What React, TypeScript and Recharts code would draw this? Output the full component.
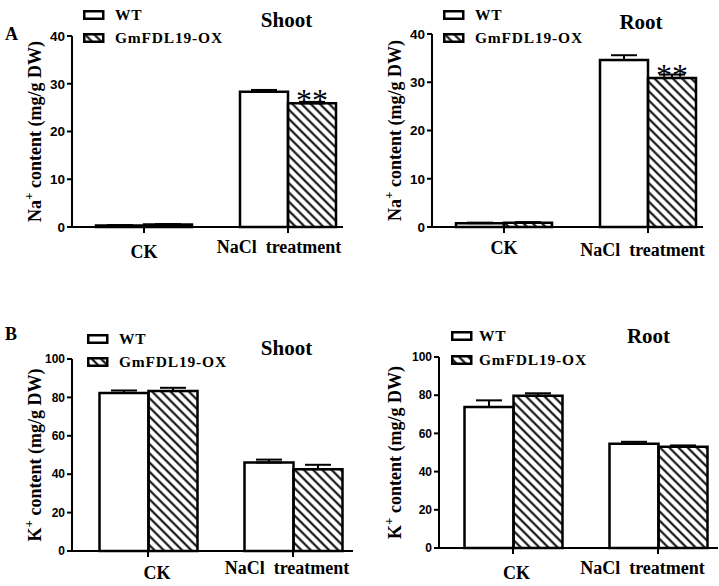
import React from 'react';
import { BarChart, Bar, XAxis, YAxis, ErrorBar, LabelList } from 'recharts';

const categories = ['CK', 'NaCl  treatment'];
const seriesNames = ['WT', 'GmFDL19-OX'];

// Na+ content (mg/g DW)
const naShootWT = [0.3, 28.3];
const naShootWTErr = [0.1, 0.4];
const naShootOX = [0.5, 25.9];
const naShootOXErr = [0.1, 0.3];
const naShootSig = ['', '**'];

const naRootWT = [0.8, 34.6];
const naRootWTErr = [0.1, 1.0];
const naRootOX = [0.9, 30.9];
const naRootOXErr = [0.1, 0.7];
const naRootSig = ['', '**'];

// K+ content (mg/g DW)
const kShootWT = [82.3, 46.1];
const kShootWTErr = [1.3, 1.5];
const kShootOX = [83.3, 42.6];
const kShootOXErr = [1.7, 2.3];
const kShootSig = ['', ''];

const kRootWT = [73.8, 54.6];
const kRootWTErr = [3.5, 1.0];
const kRootOX = [79.7, 53.0];
const kRootOXErr = [1.3, 0.7];
const kRootSig = ['', ''];

const naTicks = [0, 10, 20, 30, 40];
const kTicks = [0, 20, 40, 60, 80, 100];

const SERIF = '"Liberation Serif", "Times New Roman", serif';
const SANS = '"Liberation Sans", Arial, sans-serif';

const panels = [
  {
    id: 'as', letter: 'A', title: 'Shoot', ion: 'Na', ticks: naTicks,
    wt: naShootWT, wtErr: naShootWTErr, ox: naShootOX, oxErr: naShootOXErr, sig: naShootSig,
    left: 0, top: 0, width: 360, height: 290,
    axisX: 72, plotTop: 36, plotBottom: 227, plotRight: 343, padL: 0, padR: -17,
    tickFont: 13.5, tickDx: [0, -9], tickDy: [31, 26],
    titleX: 286.5, titleY: 27, letterY: 39.5,
    legX: 83, legTop: 10, legTextX: 115, legPitch: 23,
  },
  {
    id: 'ar', letter: '', title: 'Root', ion: 'Na', ticks: naTicks,
    wt: naRootWT, wtErr: naRootWTErr, ox: naRootOX, oxErr: naRootOXErr, sig: naRootSig,
    left: 360, top: 0, width: 359, height: 290,
    axisX: 72, plotTop: 34, plotBottom: 227, plotRight: 343, padL: 0, padR: -17,
    tickFont: 13.5, tickDx: [0, -5.5], tickDy: [27, 29],
    titleX: 281, titleY: 29, letterY: 0,
    legX: 83, legTop: 10, legTextX: 115, legPitch: 23,
  },
  {
    id: 'bs', letter: 'B', title: 'Shoot', ion: 'K', ticks: kTicks,
    wt: kShootWT, wtErr: kShootWTErr, ox: kShootOX, oxErr: kShootOXErr, sig: kShootSig,
    left: 0, top: 290, width: 360, height: 296,
    axisX: 72, plotTop: 69, plotBottom: 261, plotRight: 353, padL: 3.5, padR: -12.5,
    tickFont: 12, tickDx: [9, -6], tickDy: [28, 23],
    titleX: 286.5, titleY: 65, letterY: 50,
    legX: 87, legTop: 44, legTextX: 119, legPitch: 23,
  },
  {
    id: 'br', letter: '', title: 'Root', ion: 'K', ticks: kTicks,
    wt: kRootWT, wtErr: kRootWTErr, ox: kRootOX, oxErr: kRootOXErr, sig: kRootSig,
    left: 360, top: 290, width: 359, height: 296,
    axisX: 79, plotTop: 67, plotBottom: 258, plotRight: 358, padL: 1.5, padR: -12.5,
    tickFont: 12, tickDx: [3.5, -15.5], tickDy: [31, 26],
    titleX: 288.5, titleY: 53, letterY: 0,
    legX: 91, legTop: 41, legTextX: 119, legPitch: 24,
  },
];

type PanelCfg = typeof panels[number];

const Hatch = ({ id }: { id: string }) => (
  <pattern id={id} patternUnits="userSpaceOnUse" width={6.5} height={6.5} patternTransform="rotate(-45)">
    <line x1={3.25} y1={0} x2={3.25} y2={6.5} stroke="#000" strokeWidth={2} />
  </pattern>
);

const Panel = ({ cfg }: { cfg: PanelCfg }) => {
  const data = categories.map((name, i) => ({
    name,
    wt: cfg.wt[i],
    wtErr: [0, cfg.wtErr[i]],
    ox: cfg.ox[i],
    oxErr: [0, cfg.oxErr[i]],
    sig: cfg.sig[i],
  }));
  const hatchId = `hatch-${cfg.id}`;
  const legHatchId = `hatch-leg-${cfg.id}`;
  const midY = (cfg.plotTop + cfg.plotBottom) / 2;
  const labelX = 41;

  const renderTick = (props: any) => {
    const i = props.index;
    return (
      <text
        x={props.x + cfg.tickDx[i]}
        y={cfg.plotBottom + cfg.tickDy[i]}
        textAnchor="middle"
        fontFamily={SERIF}
        fontWeight="bold"
        fontSize={18}
        fill="#000"
        style={{ whiteSpace: 'pre' }}
      >
        {props.payload.value}
      </text>
    );
  };

  return (
    <div style={{ position: 'absolute', left: cfg.left, top: cfg.top, width: cfg.width, height: cfg.height }}>
      <BarChart
        width={cfg.width}
        height={cfg.height}
        data={data}
        margin={{ top: cfg.plotTop, right: cfg.width - cfg.plotRight, bottom: cfg.height - cfg.plotBottom - 30, left: 0 }}
        barCategoryGap={24}
        barGap={0}
      >
        <defs>
          <Hatch id={hatchId} />
        </defs>
        <XAxis
          dataKey="name"
          height={30}
          interval={0}
          padding={{ left: cfg.padL, right: cfg.padR }}
          axisLine={{ stroke: '#000', strokeWidth: 2 }}
          tickLine={{ stroke: '#000', strokeWidth: 2 }}
          tickSize={6}
          tick={renderTick}
        />
        <YAxis
          width={cfg.axisX}
          domain={[cfg.ticks[0], cfg.ticks[cfg.ticks.length - 1]]}
          ticks={cfg.ticks}
          interval={0}
          axisLine={{ stroke: '#000', strokeWidth: 2 }}
          tickLine={{ stroke: '#000', strokeWidth: 2 }}
          tickSize={5}
          tick={{ fill: '#000', fontFamily: SANS, fontWeight: 'bold', fontSize: cfg.tickFont }}
          label={{
            content: () => (
              <text
                x={labelX}
                y={midY}
                transform={`rotate(-90, ${labelX}, ${midY})`}
                textAnchor="middle"
                fontFamily={SERIF}
                fontWeight="bold"
                fontSize={18}
                fill="#000"
              >
                <tspan>{cfg.ion}</tspan>
                <tspan dy={-8} fontSize={13}>+</tspan>
                <tspan dy={8}> content (mg/g DW)</tspan>
              </text>
            ),
          }}
        />
        <Bar dataKey="wt" fill="#fff" stroke="#000" strokeWidth={2.5} isAnimationActive={false}>
          <ErrorBar dataKey="wtErr" direction="y" width={13} stroke="#000" strokeWidth={2} isAnimationActive={false} />
        </Bar>
        <Bar dataKey="ox" fill={`url(#${hatchId})`} stroke="#000" strokeWidth={2.5} isAnimationActive={false}>
          <ErrorBar dataKey="oxErr" direction="y" width={13} stroke="#000" strokeWidth={2} isAnimationActive={false} />
          <LabelList
            dataKey="sig"
            content={(p: any) =>
              p.value ? (
                <text
                  x={p.x + p.width / 2}
                  y={p.y + 8}
                  textAnchor="middle"
                  fontFamily={SERIF}
                  fontSize={32}
                  fill="#000"
                >
                  {p.value}
                </text>
              ) : null
            }
          />
        </Bar>
      </BarChart>

      <div
        style={{
          position: 'absolute', left: 0, top: 0, width: cfg.width, height: cfg.height, pointerEvents: 'none',
        }}
      >
        <svg width={cfg.width} height={cfg.height} style={{ position: 'absolute', left: 0, top: 0 }}>
          <defs>
            <Hatch id={legHatchId} />
          </defs>
          {cfg.letter && (
            <text x={5} y={cfg.letterY} fontFamily={SERIF} fontWeight="bold" fontSize={18} fill="#000">
              {cfg.letter}
            </text>
          )}
          <text x={cfg.titleX} y={cfg.titleY} textAnchor="middle" fontFamily={SERIF} fontWeight="bold" fontSize={21} fill="#000">
            {cfg.title}
          </text>
          {seriesNames.map((s, i) => (
            <g key={s}>
              <rect
                x={cfg.legX + 1.25}
                y={cfg.legTop + i * cfg.legPitch + 1.25}
                width={19}
                height={7.5}
                fill={i === 0 ? '#fff' : `url(#${legHatchId})`}
                stroke="#000"
                strokeWidth={2.5}
              />
              <text
                x={cfg.legTextX}
                y={cfg.legTop + i * cfg.legPitch + 10}
                fontFamily={SERIF}
                fontWeight="bold"
                fontSize={15.5}
                letterSpacing={0.8}
                fill="#000"
              >
                {s}
              </text>
            </g>
          ))}
        </svg>
      </div>
    </div>
  );
};

const App: React.FC = () => (
  <div style={{ position: 'absolute', left: 0, top: 0, width: 719, height: 586, background: '#fff' }}>
    {panels.map((p) => (
      <Panel key={p.id} cfg={p} />
    ))}
  </div>
);

export default App;
